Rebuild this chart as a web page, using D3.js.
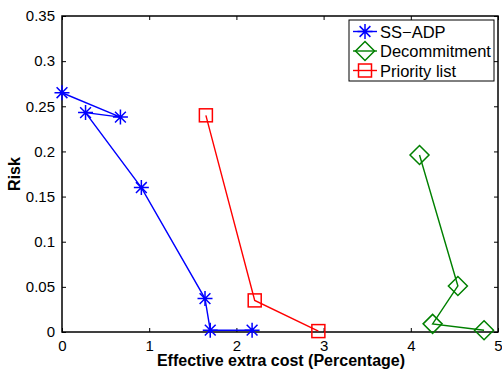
<!DOCTYPE html>
<meta charset="utf-8">
<style>
body { margin: 0; background: #fff; }
svg { display: block; font-family: "Liberation Sans", Arial, sans-serif; }
.tick text { fill: #000; }
.axis-title { font-size: 16px; font-weight: bold; }
.legend text { font-size: 16.5px; }
</style>
<body>
<svg id="chart"></svg>
<script src="https://d3js.org/d3.v7.min.js"></script>
<script>

var width = 502,
    height = 371;

// data
var ssadpX = [0, 0.67, 0.27, 0.91, 1.64, 1.70, 2.18];
var ssadpY = [0.265, 0.238, 0.243, 0.160, 0.037, 0.002, 0.002];

var decomX = [4.10, 4.54, 4.25, 4.84];
var decomY = [0.196, 0.051, 0.009, 0.002];

var prioX = [1.65, 2.21, 2.94];
var prioY = [0.240, 0.035, 0.001];

var xTicks = [0, 1, 2, 3, 4, 5];
var yTicks = [0, 0.05, 0.1, 0.15, 0.2, 0.25, 0.3, 0.35];

var series = [
  {name: "SS\u2212ADP", xs: ssadpX, ys: ssadpY, color: "#0000ff", marker: "star"},
  {name: "Decommitment", xs: decomX, ys: decomY, color: "#008000", marker: "diamond"},
  {name: "Priority list", xs: prioX, ys: prioY, color: "#ff0000", marker: "square"}
];

var margin = {left: 62, right: 4, top: 16, bottom: 39};

var x = d3.scaleLinear().domain([0, 5]).range([margin.left, width - margin.right]);
var y = d3.scaleLinear().domain([0, 0.35]).range([height - margin.bottom, margin.top]);

var svg = d3.select("#chart")
    .attr("width", width)
    .attr("height", height);

// axes with inward ticks, mirrored on top and right
svg.append("g")
    .attr("transform", "translate(0," + y(0) + ")")
    .call(d3.axisBottom(x).tickValues(xTicks).tickSize(-4).tickPadding(8).tickFormat(d3.format("d")))
    .call(function(g) { g.select(".domain").remove(); });

svg.append("g")
    .attr("transform", "translate(0," + y(0.35) + ")")
    .call(d3.axisTop(x).tickValues(xTicks).tickSize(-4).tickFormat(""))
    .call(function(g) { g.select(".domain").remove(); });

svg.append("g")
    .attr("transform", "translate(" + x(0) + ",0)")
    .call(d3.axisLeft(y).tickValues(yTicks).tickSize(-4).tickPadding(7).tickFormat(function(d) { return d3.format("")(+d.toFixed(2)); }))
    .call(function(g) { g.select(".domain").remove(); });

svg.append("g")
    .attr("transform", "translate(" + x(5) + ",0)")
    .call(d3.axisRight(y).tickValues(yTicks).tickSize(-4).tickFormat(""))
    .call(function(g) { g.select(".domain").remove(); });

svg.selectAll(".tick line").attr("stroke", "#000").attr("stroke-width", 1);
svg.selectAll(".tick text").style("font-size", "15px").attr("font-family", null);

svg.append("rect")
    .attr("x", x(0))
    .attr("y", y(0.35))
    .attr("width", x(5) - x(0))
    .attr("height", y(0) - y(0.35))
    .attr("fill", "none")
    .attr("stroke", "#000")
    .attr("stroke-width", 1.5);

function drawMarker(g, type, color) {
  if (type === "star") {
    var r = 7.5;
    g.append("path")
      .attr("d", "M" + -r + ",0H" + r + "M0," + -r + "V" + r +
        "M" + (-r * 0.72) + "," + (-r * 0.72) + "L" + (r * 0.72) + "," + (r * 0.72) +
        "M" + (-r * 0.72) + "," + (r * 0.72) + "L" + (r * 0.72) + "," + (-r * 0.72))
      .attr("stroke", color).attr("stroke-width", 1.5).attr("fill", "none");
  } else if (type === "diamond") {
    var d = 9.5;
    g.append("path")
      .attr("d", "M0," + -d + "L" + d + ",0L0," + d + "L" + -d + ",0Z")
      .attr("stroke", color).attr("stroke-width", 1.5).attr("fill", "none");
  } else {
    var s = 6.5;
    g.append("rect")
      .attr("x", -s).attr("y", -s).attr("width", 2 * s).attr("height", 2 * s)
      .attr("stroke", color).attr("stroke-width", 1.5).attr("fill", "none");
  }
}

var line = d3.line()
    .x(function(d) { return x(d[0]); })
    .y(function(d) { return y(d[1]); });

series.forEach(function(s) {
  var pts = s.xs.map(function(v, i) { return [v, s.ys[i]]; });
  svg.append("path")
      .datum(pts)
      .attr("d", line)
      .attr("fill", "none")
      .attr("stroke", s.color)
      .attr("stroke-width", 1.4);
  pts.forEach(function(p) {
    var g = svg.append("g").attr("transform", "translate(" + x(p[0]) + "," + y(p[1]) + ")");
    drawMarker(g, s.marker, s.color);
  });
});

// axis titles
svg.append("text")
    .attr("class", "axis-title")
    .attr("x", (x(0) + x(5)) / 2 + 1)
    .attr("y", 366)
    .attr("text-anchor", "middle")
    .text("Effective extra cost (Percentage)");

svg.append("text")
    .attr("class", "axis-title")
    .attr("transform", "translate(20," + ((y(0) + y(0.35)) / 2 + 0) + ")rotate(-90)")
    .attr("text-anchor", "middle")
    .text("Risk");

// legend
var legend = svg.append("g").attr("class", "legend");
legend.append("rect")
    .attr("x", 349).attr("y", 20)
    .attr("width", 145).attr("height", 61)
    .attr("fill", "#fff").attr("stroke", "#000").attr("stroke-width", 1);

series.forEach(function(s, i) {
  var cy = 31.5 + i * 19.5;
  legend.append("line")
      .attr("x1", 353).attr("x2", 377)
      .attr("y1", cy).attr("y2", cy)
      .attr("stroke", s.color).attr("stroke-width", 1.4);
  var g = legend.append("g").attr("transform", "translate(365," + cy + ")");
  drawMarker(g, s.marker, s.color);
  legend.append("text")
      .attr("x", 380)
      .attr("y", cy + 6)
      .text(s.name);
});

</script>
</body>
